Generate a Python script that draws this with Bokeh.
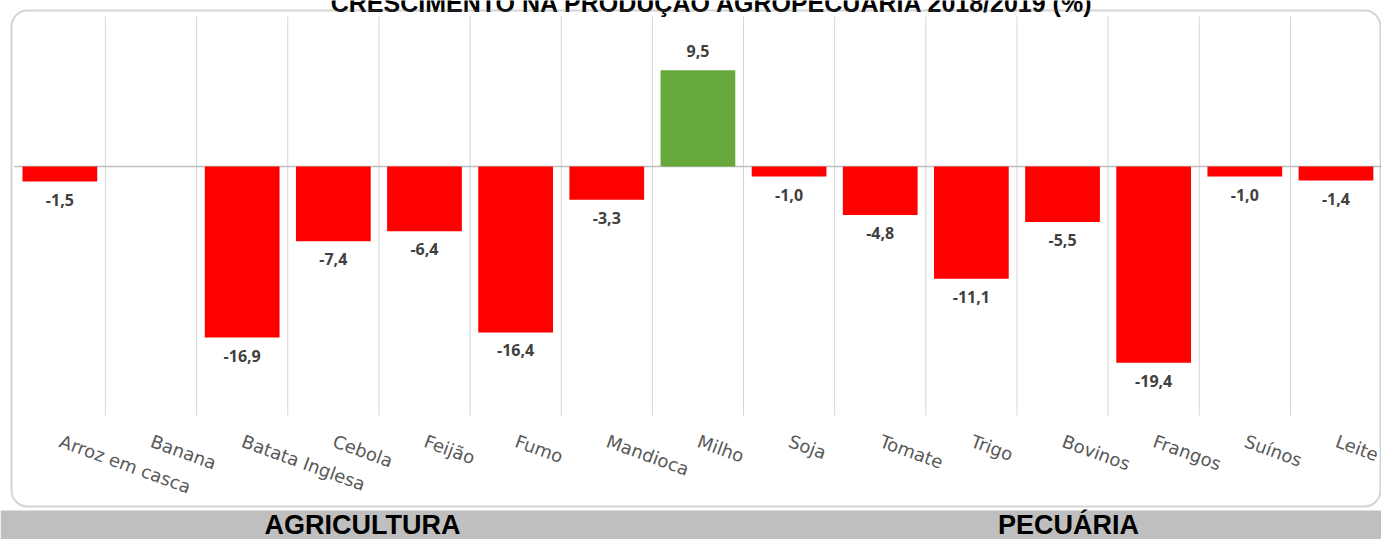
from bokeh.plotting import figure
from bokeh.models import ColumnDataSource, Range1d, BoxAnnotation
from bokeh.core.properties import value
from bokeh.embed import file_html
from bokeh.resources import INLINE

# ---------------- data ----------------
title_text = "CRESCIMENTO NA PRODUÇÃO AGROPECUÁRIA 2018/2019 (%)"
categories = ["Arroz em casca", "Banana", "Batata Inglesa", "Cebola", "Feijão",
              "Fumo", "Mandioca", "Milho", "Soja", "Tomate", "Trigo",
              "Bovinos", "Frangos", "Suínos", "Leite"]
growth = [-1.5, None, -16.9, -7.4, -6.4, -16.4, -3.3, 9.5, -1.0, -4.8, -11.1,
          -5.5, -19.4, -1.0, -1.4]
sector_names = ["AGRICULTURA", "PECUÁRIA"]

# ---------------- layout helpers (picture pixels -> data) ----------------
W, H = 1381, 539
Y_TOP, Y_BOTTOM = 14.8, -24.6
PLOT_TOP_PX, PLOT_BOT_PX = 16, 415
PPU = (PLOT_BOT_PX - PLOT_TOP_PX) / (Y_TOP - Y_BOTTOM)
X0_PX, CAT_W = 13.8, 91.15


def py(page_y):
    return Y_TOP - (page_y - PLOT_TOP_PX) / PPU


def px(page_x):
    return -0.5 + (page_x - X0_PX) / CAT_W


p = figure(width=W, height=H, output_backend="svg", toolbar_location=None,
           x_range=Range1d(px(0), px(W)),
           y_range=Range1d(py(H), py(0)),
           x_axis_type=None, y_axis_type=None, min_border=0,
           outline_line_color=None, background_fill_color="white",
           border_fill_color="white")
p.grid.visible = False

# bottom grey band
p.add_layout(BoxAnnotation(top=py(510), fill_color="#bfbfbf", fill_alpha=1.0,
                           line_color=None, level="underlay"))

# vertical gridlines between categories
n = len(categories)
gx = [i + 0.5 for i in range(n - 1)]
p.segment(x0=gx, x1=gx, y0=[Y_BOTTOM] * len(gx), y1=[Y_TOP] * len(gx),
          line_color="#d6d6d6", line_width=1)

# zero line
p.segment(x0=[-0.5], x1=[n - 0.5], y0=[0], y1=[0], line_color="#bfbfbf",
          line_width=1.5)

# bars
xs = list(range(n))
tops = [float("nan") if v is None else v for v in growth]
colors = ["#66a83c" if (v is not None and v > 0) else "#ff0000" for v in growth]
src = ColumnDataSource(dict(x=xs, top=tops, color=colors))
p.vbar(x="x", top="top", bottom=0, width=0.82, fill_color="color",
       line_color=None, source=src)


# value labels
def fmt(v):
    return f"{v:.1f}".replace(".", ",")


neg = [(i, v) for i, v in enumerate(growth) if v is not None and v < 0]
pos = [(i, v) for i, v in enumerate(growth) if v is not None and v >= 0]
p.text(x=[i for i, _ in neg], y=[v for _, v in neg], text=[fmt(v) for _, v in neg],
       text_align="center", text_baseline="top", y_offset=12,
       text_font=value("Open Sans"), text_font_style="bold",
       text_font_size="16px", text_color="#404040")
p.text(x=[i for i, _ in pos], y=[v for _, v in pos], text=[fmt(v) for _, v in pos],
       text_align="center", text_baseline="alphabetic", y_offset=-19,
       text_font=value("Open Sans"), text_font_style="bold",
       text_font_size="16px", text_color="#404040")

# category labels (rotated)
p.text(x=xs, y=[py(430)] * n, text=categories, angle=-20, angle_units="deg",
       x_offset=4, text_align="left", text_baseline="top",
       text_font=value("DejaVu Sans"), text_font_size="18px",
       text_color="#595959")

# rounded chart border
p.add_layout(BoxAnnotation(left=px(11), right=px(1380), top=py(10),
                           bottom=py(506), fill_alpha=0, line_color="#707070",
                           line_width=2, border_radius=16))

# title (clipped at the top, as in the reference)
p.text(x=[px(712)], y=[py(2)], text=[title_text], text_align="center",
       text_baseline="alphabetic", text_font=value("Liberation Sans"),
       text_font_style="bold", text_font_size="25px", text_color="black")

# sector labels in the grey band
p.text(x=[px(362), px(1068)], y=[py(524)] * 2, text=sector_names,
       text_align="center", text_baseline="alphabetic",
       text_font=value("Liberation Sans"), text_font_style="bold",
       text_font_size="27px", text_color="black")

open("out.html", "w").write(file_html(p, INLINE))
